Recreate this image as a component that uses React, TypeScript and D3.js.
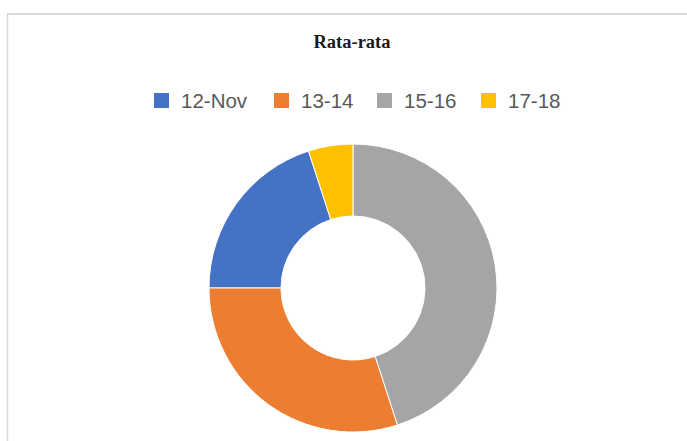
import React from 'react';
import * as d3 from 'd3';

const W = 687;
const H = 441;

const categories = ['12-Nov', '13-14', '15-16', '17-18'];
const values = [20, 30, 45, 5];
const colors = ['#4472C4', '#ED7D31', '#A5A5A5', '#FFC000'];
const title = 'Rata-rata';

// legend swatch anchors
const legendX = [154, 274, 377, 481];

export default function App() {
  const cx = 353;
  const cy = 288;
  const outer = 144;
  const inner = 72;

  // slices run counter-clockwise, first one ends at -18deg
  const start = (-18 * Math.PI) / 180;
  const pie = d3.pie<number>().sort(null).startAngle(start).endAngle(start - 2 * Math.PI);
  const arcs = pie(values);
  const arc = d3.arc<d3.PieArcDatum<number>>().innerRadius(inner).outerRadius(outer);

  return (
    <svg
      width={W}
      height={H}
      style={{ position: 'absolute', left: 0, top: 0, background: '#fff' }}
    >
      <rect x={0} y={0} width={W} height={H} fill="#fff" />
      {/* outer frame, only top and left show */}
      <line x1={7} y1={14} x2={W} y2={14} stroke="#d9d9d9" strokeWidth={2} />
      <line x1={7.5} y1={14} x2={7.5} y2={H} stroke="#d9d9d9" strokeWidth={1.5} />

      <text
        x={352}
        y={48}
        textAnchor="middle"
        fontFamily="'Liberation Serif', 'DejaVu Serif', serif"
        fontWeight="bold"
        fontSize={18.5}
        fill="#1a1a1a"
      >
        {title}
      </text>

      {categories.map((c, i) => (
        <g key={c}>
          <rect x={legendX[i]} y={93} width={15} height={15} fill={colors[i]} />
          <text
            x={legendX[i] + 27}
            y={107.5}
            fontFamily="'Liberation Sans', Arial, sans-serif"
            fontSize={20.5}
            fill="#595959"
          >
            {c}
          </text>
        </g>
      ))}

      <g transform={`translate(${cx},${cy})`}>
        {arcs.map((a, i) => (
          <path key={categories[i]} d={arc(a) || ''} fill={colors[i]} stroke="#fff" strokeWidth={1} />
        ))}
      </g>
    </svg>
  );
}
